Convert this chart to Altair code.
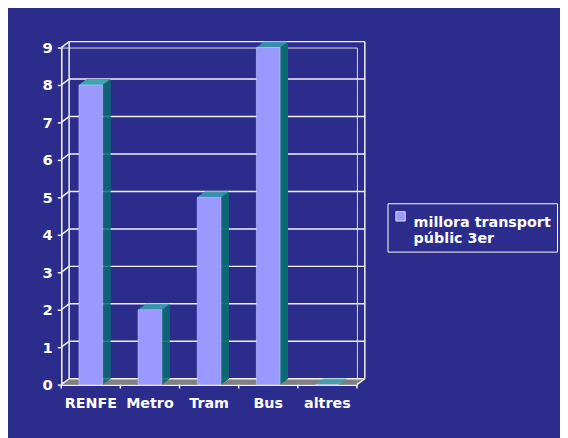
import altair as alt
import pandas as pd

# ---- data ----
categories = ["RENFE", "Metro", "Tram", "Bus", "altres"]
values = [8, 2, 5, 9, 0]
series_name = "millora transport públic 3er"
y_ticks = [0, 1, 2, 3, 4, 5, 6, 7, 8, 9]

bars_df = pd.DataFrame({"cat": categories, "val": values, "series": [series_name] * len(categories)})
grid_df = pd.DataFrame({"v": y_ticks})

# ---- styling ----
W, H = 300, 342
DX, DY = 8, 6
BAR_W = 24
BAND = W / len(categories)
BG = "#2C2C8C"
FRONT = "#9999FF"
SIDE = "#0C6C74"
TOP = "#3DA6B2"
FLOOR = "#8A8A82"
LINE = "#F2F2F2"
FONT = "DejaVu Sans"

x_scale = alt.Scale(domain=categories, paddingInner=0, paddingOuter=0)
y_scale = alt.Scale(domain=[0, 9], nice=False, zero=True)

x_axis = alt.Axis(
    title=None, labelAngle=0, labelAlign="center", labelBaseline="top",
    labelColor="white", labelFont=FONT, labelFontWeight="bold",
    labelFontSize=14.5, domainColor=LINE, domainWidth=1.5, ticks=False,
    labelPadding=12, grid=False, labelOverlap=False,
)
y_axis = alt.Axis(
    title=None, values=y_ticks, labelColor="white", labelFont=FONT, labelFontWeight="bold",
    labelFontSize=15, domainColor=LINE, domainWidth=1.5, tickColor=LINE, tickSize=4,
    tickWidth=1.5, labelPadding=5, grid=False, labelOverlap=False,
)


def X():
    return alt.X("cat:N", scale=x_scale, sort=categories, axis=x_axis)


def Y(field):
    return alt.Y(field, scale=y_scale, axis=y_axis)


base_bars = alt.Chart(bars_df)
base_grid = alt.Chart(grid_df)

layers = []

# floor (gray parallelogram built from thin slices)
for j in range(DY):
    off = (j + 0.5) * DX / DY
    layers.append(
        base_grid.transform_filter("datum.v == 0").mark_rule(color=FLOOR, strokeWidth=1.2, yOffset=-(j + 0.5)).encode(
            y=Y("v:Q"), x=alt.value(off), x2=alt.value(W + off),
        )
    )

# back wall gridlines
layers.append(
    base_grid.mark_rule(color=LINE, strokeWidth=1.5, yOffset=-DY).encode(
        y=Y("v:Q"), x=alt.value(DX), x2=alt.value(W + DX),
    )
)
# left wall diagonals
layers.append(
    base_grid.mark_rule(color=LINE, strokeWidth=1.5, y2Offset=-DY).encode(
        y=Y("v:Q"), y2="v:Q", x=alt.value(0), x2=alt.value(DX),
    )
)
# right floor edge diagonal
layers.append(
    base_grid.transform_filter("datum.v == 0").mark_rule(color=LINE, strokeWidth=1.5, y2Offset=-DY).encode(
        y=Y("v:Q"), y2="v:Q", x=alt.value(W), x2=alt.value(W + DX),
    )
)
# back wall verticals
for xv in (DX, W + DX):
    layers.append(
        base_grid.transform_aggregate(lo="min(v)", hi="max(v)").mark_rule(
            color=LINE, strokeWidth=1.5, yOffset=-DY, y2Offset=-DY
        ).encode(y=Y("lo:Q"), y2="hi:Q", x=alt.value(xv))
    )
# x ticks at category boundaries
layers.append(
    base_bars.mark_rule(color=LINE, strokeWidth=1.5, xOffset=-BAND / 2).encode(
        x=X(), y=alt.value(H), y2=alt.value(H + 4),
    )
)
layers.append(
    base_bars.transform_filter("datum.cat == 'altres'").mark_rule(
        color=LINE, strokeWidth=1.5, xOffset=BAND / 2
    ).encode(x=X(), y=alt.value(H), y2=alt.value(H + 4))
)

# bar side faces (slices)
for i in range(DX):
    off = -(i + 0.5) * DY / DX
    layers.append(
        base_bars.mark_bar(color=SIDE, width=1.2, xOffset=BAR_W / 2 + i + 0.5, yOffset=off, y2Offset=off).encode(
            x=X(), y=Y("val:Q"), y2=alt.datum(0),
        )
    )
# bar top faces (slices)
for j in range(DY):
    layers.append(
        base_bars.mark_bar(color=TOP, width=BAR_W, xOffset=(j + 0.5) * DX / DY, yOffset=-(j + 1.1), y2Offset=-j).encode(
            x=X(), y=Y("val:Q"), y2="val:Q",
        )
    )
# bar front faces
layers.append(
    base_bars.mark_bar(width=BAR_W, stroke="#C8C8FF", strokeWidth=0.6).encode(
        x=X(), y=Y("val:Q"),
        color=alt.Color(
            "series:N",
            scale=alt.Scale(domain=[series_name], range=[FRONT]),
            legend=alt.Legend(
                title=None, orient="none", legendX=331, legendY=158,
                labelExpr="['millora transport', 'públic 3er']",
                labelColor="white", labelFont=FONT, labelFontWeight="bold", labelFontSize=14.5,
                labelLimit=300, labelBaseline="top", labelOffset=6,
                symbolType="square", symbolSize=90, symbolStrokeColor="#E0E0E0",
                symbolStrokeWidth=1, symbolOpacity=1,
                strokeColor="white", padding=6, fillColor=BG,
            ),
        ),
    )
)

chart = alt.layer(*layers).properties(
    width=W, height=H,
    autosize=alt.AutoSizeParams(type="none"),
    padding={"left": 54, "top": 37, "right": 206, "bottom": 51},
    background=BG,
).configure_view(stroke=None).configure(
    style={"guide-label": {"lineHeight": 16}}
)

chart.save("out.html", embed_options={"renderer": "svg", "actions": False})
